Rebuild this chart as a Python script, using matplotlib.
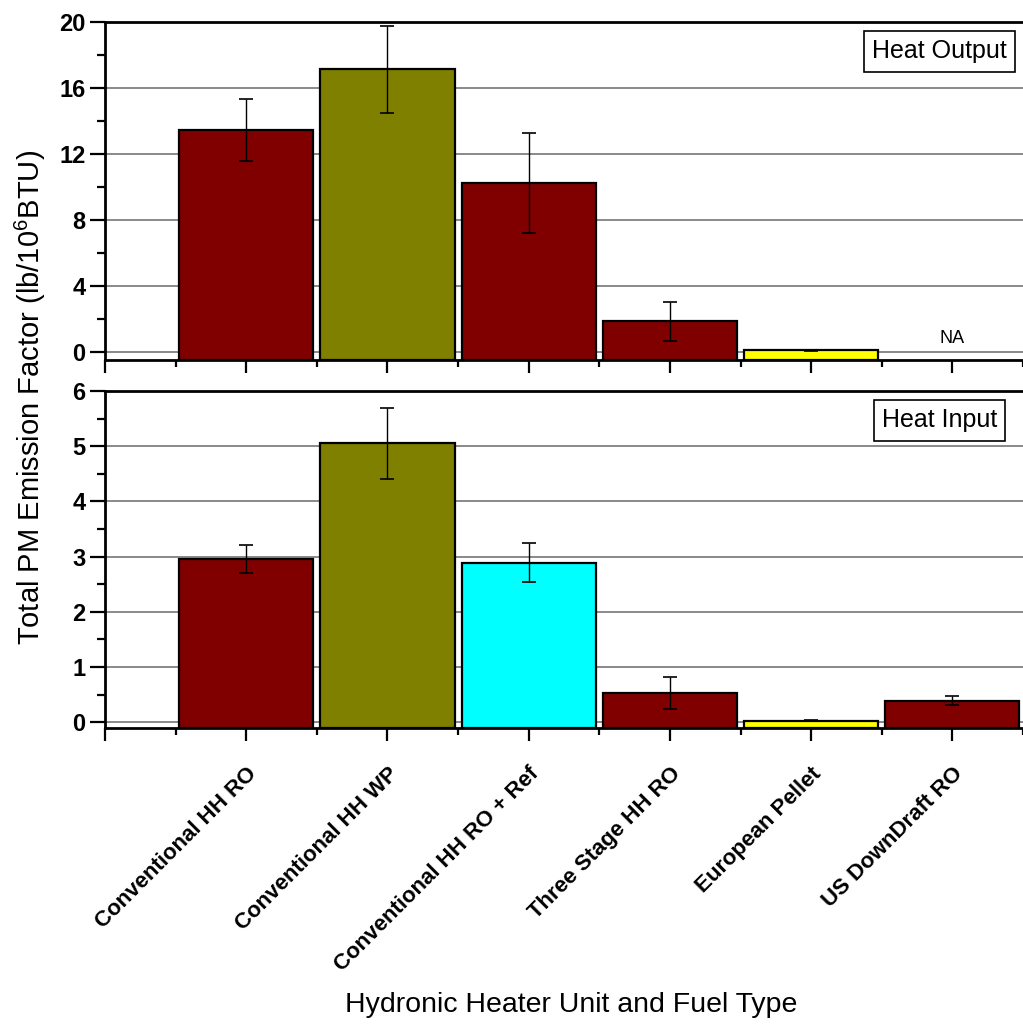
import numpy as np
import matplotlib
matplotlib.use("Agg")
import matplotlib.pyplot as plt
from matplotlib.ticker import MultipleLocator

plt.rcParams['font.family'] = ['Liberation Sans', 'DejaVu Sans']
plt.rcParams['mathtext.fontset'] = 'custom'
plt.rcParams['mathtext.rm'] = 'Liberation Sans'
plt.rcParams['mathtext.default'] = 'regular'

# data
units = ['Conventional HH RO', 'Conventional HH WP', 'Conventional HH RO + Ref',
         'Three Stage HH RO', 'European Pellet', 'US DownDraft RO']
colors = ['#800000', '#808000', '#800000', '#800000', '#FFFF00', '#800000']
colors_in = ['#800000', '#808000', '#00FFFF', '#800000', '#FFFF00', '#800000']

heat_output = [13.45, 17.14, 10.22, 1.84, 0.08, np.nan]   # last one is NA
heat_output_err = [1.88, 2.64, 3.04, 1.18, 0.02, np.nan]
heat_input = [2.96, 5.05, 2.89, 0.53, 0.03, 0.39]
heat_input_err = [0.25, 0.65, 0.35, 0.29, 0.01, 0.08]

x = np.arange(1, len(units) + 1)

fig = plt.figure(figsize=(10.23, 10.27), dpi=100)
ax1 = fig.add_axes([105/1023, 1 - 360/1027, 918/1023, 338/1027])
ax2 = fig.add_axes([105/1023, 1 - 728/1027, 918/1023, 337/1027])


def draw_panel(ax, vals, errs, cols, ymin, ymax, major, label):
    vals = np.array(vals, dtype=float)
    errs = np.array(errs, dtype=float)
    ok = ~np.isnan(vals)
    # bars start at the bottom of the axis, like the original
    ax.bar(x[ok], vals[ok] - ymin, bottom=ymin, width=0.95,
           color=[c for c, k in zip(cols, ok) if k],
           edgecolor='black', linewidth=1.6, zorder=3)
    ax.errorbar(x[ok], vals[ok], yerr=errs[ok], fmt='none', ecolor='black',
                elinewidth=1, capsize=5, capthick=1.2, zorder=4)
    ax.set_xlim(0, 6.5)
    ax.set_ylim(ymin, ymax)
    ax.yaxis.set_major_locator(MultipleLocator(major))
    ax.yaxis.set_minor_locator(MultipleLocator(major / 2))
    ax.set_xticks(np.arange(0, 7))
    ax.set_xticks(np.arange(0.5, 6.6, 1), minor=True)
    ax.grid(axis='y', which='major', color='#808080', linewidth=1.3, zorder=0)
    ax.set_axisbelow(True)
    ax.spines['right'].set_visible(False)
    for s in ['left', 'top', 'bottom']:
        ax.spines[s].set_linewidth(2)
    ax.tick_params(axis='y', which='major', direction='out', length=11,
                   width=1.6, labelsize=17, pad=3)
    ax.tick_params(axis='y', which='minor', direction='out', length=6, width=1.6)
    ax.tick_params(axis='x', which='major', direction='out', length=9.5, width=1.6)
    ax.tick_params(axis='x', which='minor', direction='out', length=5, width=1.6)
    for t in ax.get_yticklabels():
        t.set_fontweight('bold')
    ax.text(0.909, 0.913, label, transform=ax.transAxes, ha='center',
            va='center', fontsize=18,
            bbox=dict(boxstyle='square,pad=0.33', fc='white', ec='black', lw=1.2),
            zorder=6)


draw_panel(ax1, heat_output, heat_output_err, colors, -0.5, 20, 4, 'Heat Output')
draw_panel(ax2, heat_input, heat_input_err, colors_in, -0.105, 6, 1, 'Heat Input')

ax1.set_xticklabels([])
ax1.text(6, 0.82, 'NA', ha='center', va='center', fontsize=13)

ax2.set_xticklabels([''] + units, rotation=45, ha='right', rotation_mode='anchor',
                    fontsize=16, fontweight='bold')
ax2.tick_params(axis='x', which='major', pad=16)

fig.text(571/1023, 1 - 1005/1027, 'Hydronic Heater Unit and Fuel Type',
         ha='center', va='center', fontsize=20.5)
fig.text(30/1023, 1 - 397/1027, r'Total PM Emission Factor (lb/10$^{6}$BTU)',
         ha='center', va='center', rotation=90, fontsize=21)

fig.savefig('out.png', dpi=100)
